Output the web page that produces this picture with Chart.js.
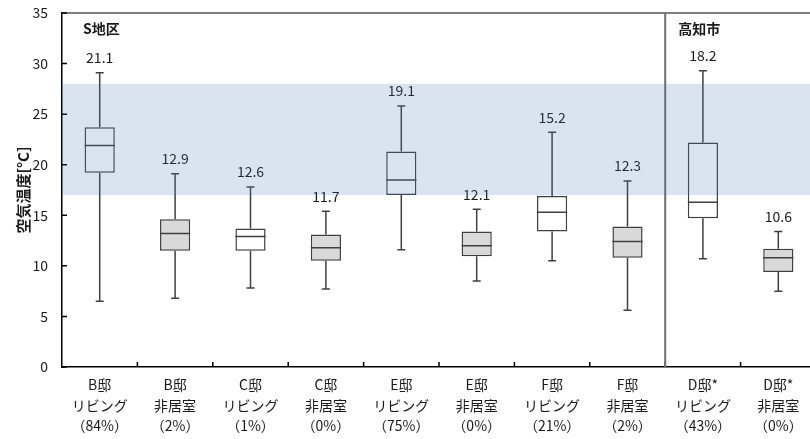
<!DOCTYPE html>
<html>
<head>
<meta charset="utf-8">
<script src="https://cdn.jsdelivr.net/npm/chart.js@4.4.1/dist/chart.umd.min.js"></script>
<style>
  html, body { margin: 0; padding: 0; background: #ffffff; overflow: hidden; }
  #wrap { width: 818px; height: 439px; }
</style>
</head>
<body>
<div id="wrap"><canvas id="c"></canvas></div>
<script>
// Room categories (house / room / share of time in comfort range)
const categories = [
  ['B邸', 'リビング', '（84%）'],
  ['B邸', '非居室', '（2%）'],
  ['C邸', 'リビング', '（1%）'],
  ['C邸', '非居室', '（0%）'],
  ['E邸', 'リビング', '（75%）'],
  ['E邸', '非居室', '（0%）'],
  ['F邸', 'リビング', '（21%）'],
  ['F邸', '非居室', '（2%）'],
  ['D邸*', 'リビング', '（43%）'],
  ['D邸*', '非居室', '（0%）']
];

// Air temperature statistics [°C]
const whiskerMax = [29.1, 19.1, 17.8, 15.4, 25.8, 15.6, 23.2, 18.4, 29.3, 13.4];
const upperQuartile = [23.7, 14.6, 13.7, 13.1, 21.3, 13.4, 16.9, 13.9, 22.2, 11.7];
const medians = [21.9, 13.2, 12.9, 11.8, 18.5, 12.0, 15.3, 12.4, 16.3, 10.8];
const lowerQuartile = [19.2, 11.5, 11.5, 10.5, 17.0, 10.95, 13.4, 10.8, 14.7, 9.4];
const whiskerMin = [6.5, 6.8, 7.8, 7.7, 11.6, 8.5, 10.5, 5.6, 10.7, 7.5];
const means = [21.1, 12.9, 12.6, 11.7, 19.1, 12.1, 15.2, 12.3, 18.2, 10.6];

// Comfort temperature range
const comfortRange = [17, 28];

// Area groups: name and index of the first category in the group
const areaNames = ['S地区', '高知市'];
const areaStarts = [0, 8];

// Y axis ticks
const yTicks = [0, 5, 10, 15, 20, 25, 30, 35];

const FONT = '"Noto Sans CJK JP", "Noto Sans", sans-serif';
const INK = '#404040';

const boxPlot = {
  id: 'boxPlot',
  afterDatasetsDraw(chart) {
    const { ctx, chartArea: a, scales: { x, y } } = chart;
    const meta = chart.getDatasetMeta(0);
    ctx.save();

    // whiskers, caps and medians
    ctx.strokeStyle = INK;
    ctx.lineWidth = 1.5;
    meta.data.forEach((bar, i) => {
      const cx = x.getPixelForValue(i);
      const half = bar.width / 2;
      const yMax = y.getPixelForValue(whiskerMax[i]);
      const yMin = y.getPixelForValue(whiskerMin[i]);
      const yQ3 = y.getPixelForValue(upperQuartile[i]);
      const yQ1 = y.getPixelForValue(lowerQuartile[i]);
      const yMed = y.getPixelForValue(medians[i]);
      ctx.beginPath();
      ctx.moveTo(cx, yQ3); ctx.lineTo(cx, yMax);
      ctx.moveTo(cx - 4, yMax); ctx.lineTo(cx + 4, yMax);
      ctx.moveTo(cx, yQ1); ctx.lineTo(cx, yMin);
      ctx.moveTo(cx - 4, yMin); ctx.lineTo(cx + 4, yMin);
      ctx.moveTo(cx - half, yMed); ctx.lineTo(cx + half, yMed);
      ctx.stroke();
    });

    // mean value labels
    ctx.fillStyle = '#1a1a1a';
    ctx.font = '14px ' + FONT;
    ctx.textAlign = 'center';
    ctx.textBaseline = 'middle';
    means.forEach((m, i) => {
      const cx = x.getPixelForValue(i);
      ctx.fillText(m.toFixed(1), cx, y.getPixelForValue(whiskerMax[i]) - 15);
    });

    // category boundaries: inside tick marks and area separator
    const boundary = k => (x.getPixelForValue(k - 1) + x.getPixelForValue(k)) / 2;
    ctx.strokeStyle = '#000000';
    ctx.lineWidth = 1.5;
    ctx.beginPath();
    for (let k = 1; k < categories.length; k++) {
      const bx = boundary(k);
      ctx.moveTo(bx, a.bottom); ctx.lineTo(bx, a.bottom - 5);
    }
    yTicks.forEach(t => {
      const ty = y.getPixelForValue(t);
      ctx.moveTo(a.left, ty); ctx.lineTo(a.left + 5, ty);
    });
    ctx.stroke();

    // top frame line
    ctx.lineWidth = 1.2;
    ctx.beginPath();
    ctx.moveTo(a.left, a.top); ctx.lineTo(a.right, a.top);
    ctx.stroke();

    // area separators and names
    ctx.font = 'bold 14px ' + FONT;
    ctx.textAlign = 'left';
    ctx.fillStyle = '#1a1a1a';
    areaStarts.forEach((s, j) => {
      let lx = a.left;
      if (s > 0) {
        lx = boundary(s);
        ctx.strokeStyle = '#6f6f6f';
        ctx.lineWidth = 2;
        ctx.beginPath();
        ctx.moveTo(lx, a.top); ctx.lineTo(lx, a.bottom);
        ctx.stroke();
      }
      ctx.fillText(areaNames[j], lx + (s > 0 ? 13 : 21), a.top + 16);
    });

    // translucent comfort band on top
    const yTop = y.getPixelForValue(comfortRange[1]);
    const yBot = y.getPixelForValue(comfortRange[0]);
    ctx.fillStyle = 'rgba(68, 114, 182, 0.2)';
    ctx.fillRect(a.left + 1, yTop, a.right - a.left - 1, yBot - yTop);

    ctx.restore();
  }
};

new Chart(document.getElementById('c'), {
  type: 'bar',
  data: {
    labels: categories,
    datasets: [{
      data: lowerQuartile.map((q1, i) => [q1, upperQuartile[i]]),
      backgroundColor: ctx => (categories[ctx.dataIndex][1] === '非居室' ? '#d9d9d9' : '#ffffff'),
      borderColor: INK,
      borderWidth: 1.5,
      borderSkipped: false,
      barPercentage: 0.4,
      categoryPercentage: 1.0
    }]
  },
  options: {
    responsive: true,
    maintainAspectRatio: false,
    animation: false,
    devicePixelRatio: 1,
    layout: { padding: { top: 13, right: 2, left: 0, bottom: 0 } },
    plugins: {
      legend: { display: false },
      tooltip: { enabled: false }
    },
    scales: {
      x: {
        afterFit: s => { s.height = 72; s.paddingLeft = 0; s.paddingRight = 0; },
        grid: { display: true, drawOnChartArea: false, drawTicks: false, offset: true },
        border: { display: true, color: '#000000', width: 1.5 },
        ticks: {
          autoSkip: false,
          maxRotation: 0,
          padding: 8,
          color: '#1a1a1a',
          font: { family: FONT, size: 14, lineHeight: 1.45 }
        }
      },
      y: {
        min: 0,
        max: 35,
        afterFit: s => { s.width = 62; s.paddingTop = 0; s.paddingBottom = 0; },
        afterBuildTicks: s => { s.ticks = yTicks.map(v => ({ value: v })); },
        grid: { display: true, drawOnChartArea: false, drawTicks: false },
        border: { display: true, color: '#000000', width: 1.5 },
        ticks: {
          padding: 14,
          color: '#1a1a1a',
          font: { family: FONT, size: 14 }
        },
        title: {
          display: true,
          text: '空気温度[°C]',
          color: '#1a1a1a',
          font: { family: FONT, size: 15, weight: 'bold' },
          padding: { top: 14, bottom: 0 }
        }
      }
    }
  },
  plugins: [boxPlot]
});
</script>
</body>
</html>
